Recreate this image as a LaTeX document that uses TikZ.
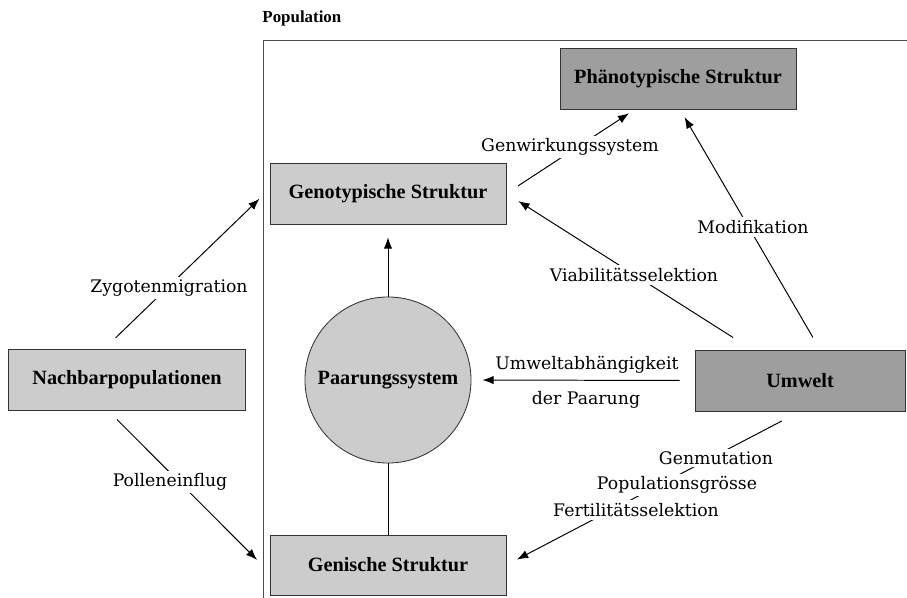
\documentclass[tikz,border=0pt]{standalone}
\usepackage{fontspec}
\setmainfont{Liberation Serif}
\newfontfamily\labelfont{DejaVu Serif}
\usetikzlibrary{arrows.meta,calc}
\definecolor{hellgrau}{gray}{0.80}
\definecolor{dunkelgrau}{gray}{0.62}

\begin{document}
\begin{tikzpicture}[x=0.025cm,y=-0.025cm,
  >={Latex[length=8pt,width=6pt]},
  every path/.style={line width=0.7pt},
  box/.style={draw=black!80,line width=0.6pt,fill=hellgrau,minimum width=5.9cm,minimum height=1.525cm,
    font=\fontsize{14.4}{16}\selectfont\bfseries},
  dunkelbox/.style={box,fill=dunkelgrau},
  lbl/.style={font=\labelfont\fontsize{12.3}{14}\selectfont,inner sep=2pt},
  wlbl/.style={lbl,fill=white}]
\useasboundingbox (0,0) rectangle (907,598);
%\draw[step=1cm,gray,very thin] (0,0) grid (907,598);
% Rahmen der Population
\node[anchor=base west,inner sep=0pt,font=\fontsize{12}{14}\selectfont\bfseries] (poplabel) at (262,23) {Population};
\draw[black!70,line width=0.6pt] (263,598) -- (263,40) -- (907,40);
% Knoten
\node[dunkelbox] (phaeno) at (678,78.5) {Phänotypische Struktur};
\node[box] (geno) at (388,193.5) {Genotypische Struktur};
\node[box,minimum width=5.925cm] (nachbar) at (127,380) {Nachbarpopulationen};
\node[dunkelbox,minimum width=5.25cm] (umwelt) at (800,380.5) {Umwelt};
\node[box,minimum height=1.5cm] (genisch) at (388,565) {Genische Struktur};
\node[circle,draw=black!80,line width=0.6pt,fill=hellgrau,minimum size=4.15cm,inner sep=0pt,
  font=\fontsize{14.4}{16}\selectfont\bfseries] (paarung) at (388,380) {Paarungssystem};
% Pfeile
\draw[->,shorten <=10pt,shorten >=5pt] (geno.east) -- ($(phaeno.south)+(-43,0)$);
\draw[->,shorten <=10pt,shorten >=6.4pt] ($(umwelt.north)+(20,0)$) -- ($(phaeno.south)+(2,0)$);
\draw[->,shorten <=16pt,shorten >=10pt] ($(umwelt.north)+(-48,0)$) -- (geno.east);
\draw[->,shorten <=11.4pt,shorten >=10pt] ($(nachbar.north)+(-23,0)$) -- ($(geno.west)+(0,-4.5)$);
\draw[->,shorten <=8.5pt,shorten >=12.6pt] ($(nachbar.south)+(-18.5,0)$) -- ($(genisch.west)+(0,7.5)$);
\draw[->,shorten <=14.6pt,shorten >=8.4pt] (umwelt.south) -- (genisch.east);
\draw[->,shorten <=10.7pt,shorten >=7.8pt] (umwelt.west) -- (paarung.east);
\draw[->,shorten >=9.2pt] (paarung.north) -- (geno.south);
\draw (paarung.south) -- (genisch.north);
% Beschriftungen
\node[wlbl] (genwirk) at (570,147) {Genwirkungssystem};
\node[wlbl] (modif) at (753,227) {Modifikation};
\node[wlbl] (viab) at (634,275) {Viabilitätsselektion};
\node[wlbl] (zygote) at (169,288) {Zygotenmigration};
\node[wlbl] (pollen) at (170,482) {Polleneinflug};
\node[lbl] (umweltab) at (587,365) {Umweltabhängigkeit};
\node[lbl] (paarab) at (586,400) {der Paarung};
\node[wlbl] (genmut) at (716,458) {Genmutation};
\node[wlbl] (popgr) at (677,485) {Populationsgrösse};
\node[wlbl] (fert) at (636,510) {Fertilitätsselektion};
\end{tikzpicture}
\end{document}
